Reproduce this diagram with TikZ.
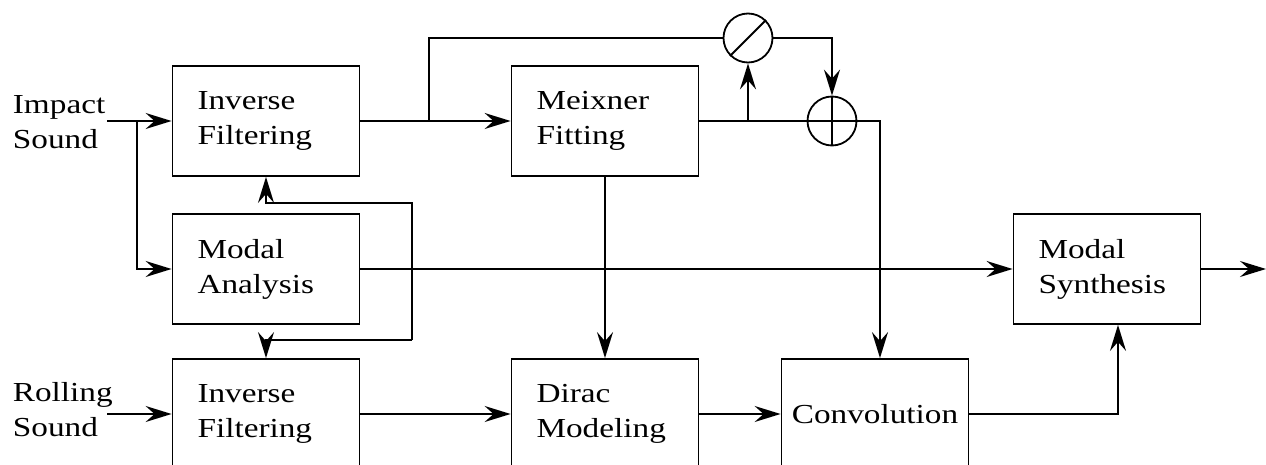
\documentclass[tikz,border=0pt]{standalone}
\usepackage{fontspec}
\setmainfont{Liberation Serif}[FakeStretch=1.21]
\usetikzlibrary{arrows.meta}

\tikzset{
	block/.style={draw,minimum height=55pt,text width=68.5pt,inner xsep=12.5pt,align=left},
	sum/.style={draw,circle,minimum size=24.5pt,inner sep=0pt},
	arr/.style={-{Stealth[length=13pt,width=8pt,inset=4.5pt]}},
}

\begin{document}
\begin{tikzpicture}[x=0.5pt,y=-0.5pt,line width=0.9pt,font=\fontsize{13.75}{17.5}\selectfont]
			\useasboundingbox (0,0) rectangle (1266,465);
			\node[block] (invtop) at (266,121) {Inverse\\Filtering};
			\node[block] (modal) at (266,269) {Modal\\Analysis};
			\node[block] (invbot) at (266,414) {Inverse\\Filtering};
			\node[block] (meix) at (605,121) {Meixner\\Fitting};
			\node[block] (dirac) at (605,414) {Dirac\\Modeling};
			\node[block,inner xsep=3pt,text width=87.5pt,align=center] (conv) at (875,414) {Convolution};
			\node[block] (synth) at (1107,269) {Modal\\Synthesis};
			\node[align=left,anchor=west,inner sep=2pt] (impact) at (8,122) {Impact\\Sound};
			\node[align=left,anchor=west,inner sep=2pt] (rolling) at (8,410) {Rolling\\Sound};
			\node[sum] (div) at (748,38) {};
			\draw (div.225) -- (div.45);
			\node[sum] (plus) at (832,121) {};
			\draw (plus.north) -- (plus.south);
			\coordinate (impin) at (107,121);
			\coordinate (rollin) at (107,414);
			\coordinate (split) at (137,121);
			\coordinate (tap) at (429,121);
			\coordinate (branch) at (748,121);
			\coordinate (turn) at (880,121);
			\coordinate (fbtop) at (412,203);
			\coordinate (fbbot) at (412,340);
			\coordinate (out) at (1266,269);
			\draw[arr] (impin) -- (invtop.west);
			\draw[arr] (split) |- (modal.west);
			\draw[arr] (rollin) -- (invbot.west);
			\draw[arr] (invtop.east) -- (meix.west);
			\draw[arr] (modal.east) -- (synth.west);
			\draw[arr] (synth.east) -- (out);
			\draw[arr] (fbbot) -- (fbtop) -| (invtop.south);
			\draw[arr] (fbbot) -| (invbot.north);
			\draw (tap) |- (div.west);
			\draw[arr] (div.east) -| (plus.north);
			\draw[arr] (branch) -- (div.south);
			\draw[arr] (meix.east) -- (turn) -- (turn |- conv.north);
			\draw[arr] (meix.south) -- (dirac.north);
			\draw[arr] (invbot.east) -- (dirac.west);
			\draw[arr] (dirac.east) -- (conv.west);
			\draw[arr] (conv.east) -| ([xshift=5.5pt]synth.south);
		\end{tikzpicture}
\end{document}
